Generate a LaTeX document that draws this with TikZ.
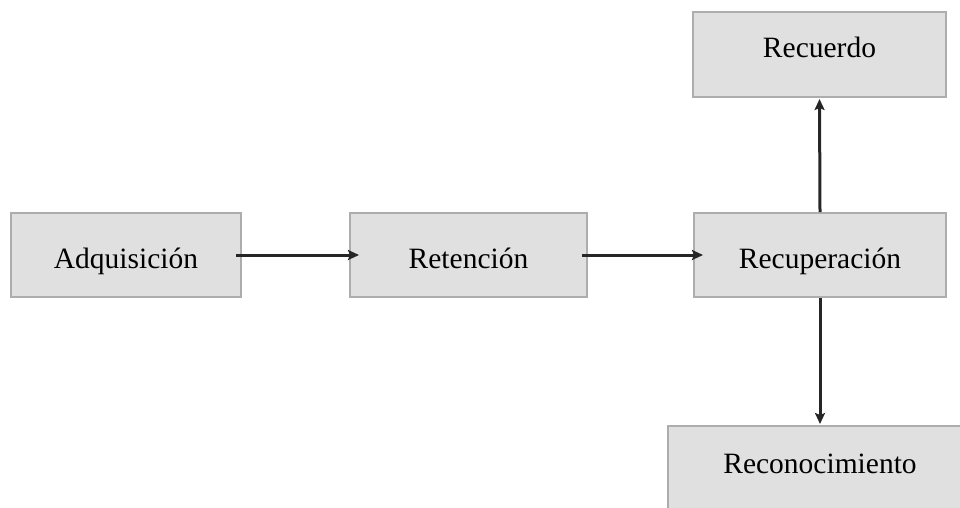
\documentclass[tikz,border=0pt]{standalone}
\usepackage{fontspec}
\setmainfont{Liberation Serif}
\usetikzlibrary{arrows.meta}
\usetikzlibrary{positioning}

\definecolor{boxfill}{HTML}{E0E0E0}
\definecolor{boxline}{HTML}{ADADAD}

\begin{document}
\begin{tikzpicture}[
    x=1pt, y=-1pt,
    every node/.style={font=\fontsize{29.5}{34}\selectfont},
    stage/.style={draw=boxline, fill=boxfill, line width=2pt,
      minimum height=84pt, inner sep=0pt,
      text height=26pt, text depth=0pt},
    flow/.style={draw=black!85, line width=3pt,
      -{Stealth[length=11pt, width=10pt, inset=2pt]}}
  ]

% Frame of the picture (the bottom box runs past the edge)
\clip (0,0) rectangle (960,507);

% Stages of the memory process, left to right
\node[stage, minimum width=230pt] (adq) at (126,255) {Adquisici\'on};
\node[stage, minimum width=237pt] (ret) at (468.5,255) {Retenci\'on};
\node[stage, minimum width=252pt] (recup) at (820,255) {Recuperaci\'on};

% The two ways out of recuperacion (text sits higher in these)
\node[stage, minimum width=253pt, minimum height=85pt,
  text height=20pt, text depth=15pt] (recuerdo) at (819.5,54.5) {Recuerdo};
\node[stage, minimum width=304pt, minimum height=86pt,
  text height=20pt, text depth=12pt, anchor=north] (recon) at (820,425) {Reconocimiento};

% Connectors
\draw[flow] ([xshift=-6pt]adq.east) -- ([xshift=10pt]ret.west);
\draw[flow] ([xshift=-6pt]ret.east) -- ([xshift=10pt]recup.west);
\draw[flow] (recup.north) -- ([yshift=-1pt]recuerdo.south);
\draw[flow] (recup.south) -- ([yshift=1pt]recon.north);

\end{tikzpicture}
\end{document}
